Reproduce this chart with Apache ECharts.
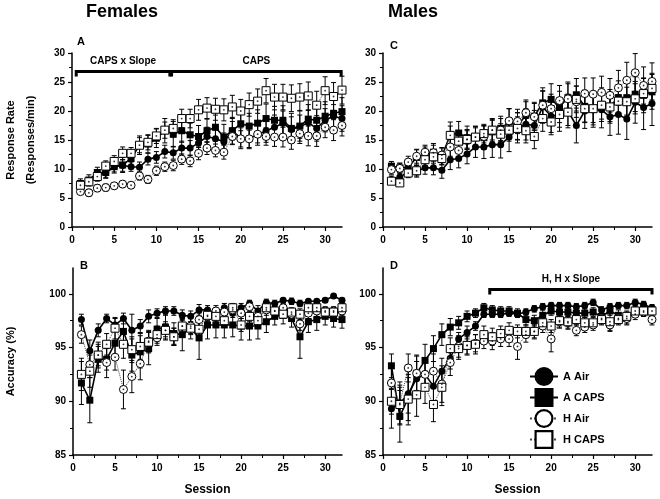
<!DOCTYPE html>
<html><head><meta charset="utf-8">
<script src="https://cdn.jsdelivr.net/npm/echarts@6/dist/echarts.min.js"></script>
<style>html,body{margin:0;padding:0;background:#fff}#c{width:660px;height:499px}</style>
</head><body><div id="c"></div>
<script>
const sessions = [1,2,3,4,5,6,7,8,9,10,11,12,13,14,15,16,17,18,19,20,21,22,23,24,25,26,27,28,29,30,31,32];
const xTicks = [0,5,10,15,20,25,30];
const rateTicks = [0,5,10,15,20,25,30];
const accTicks = [85,90,95,100];
const seriesNames = ['A Air','A CAPS','H Air','H CAPS'];

// Panel A: Females response rate
const rateFemAAir  = [7.1,7.8,9.0,9.3,10.4,10.6,10.4,10.3,11.7,12.0,13.0,12.8,13.6,13.6,14.5,15.6,15.2,14.7,16.6,15.3,15.3,15.9,16.6,17.2,17.9,16.8,17.3,18.0,17.0,18.4,19.1,18.7];
const rateFemACaps = [7.5,8.1,9.4,9.4,10.4,10.7,11.8,14.1,14.3,15.3,16.6,16.0,16.6,15.9,15.6,16.6,17.2,15.5,16.6,17.8,17.4,17.9,18.7,18.4,18.4,17.0,17.4,18.6,18.4,19.1,19.6,19.9];
const rateFemHAir  = [6.1,5.9,6.7,6.8,7.1,7.4,7.2,8.8,8.2,9.7,10.4,10.6,11.7,11.4,12.7,13.6,13.2,12.9,15.6,15.2,15.2,16.0,15.6,15.5,15.5,15.0,16.1,15.7,15.7,17.2,16.7,17.5];
const rateFemHCaps = [7.2,7.8,8.7,10.5,11.3,12.7,12.7,14.1,14.6,15.7,16.7,17.0,18.7,18.7,20.2,20.5,20.3,20.2,20.7,20.0,21.1,21.7,23.5,22.4,22.4,22.2,22.4,22.6,21.0,23.5,22.5,23.6];
const rateFemAAirSem  = [0.6,0.7,0.7,0.8,0.9,1.0,0.8,0.9,1.0,1.0,1.1,1.1,1.2,1.3,1.5,1.6,1.5,1.5,1.6,1.8,1.8,1.8,2.0,2.1,2.1,2.2,2.0,2.1,2.2,2.0,2.0,2.2];
const rateFemACapsSem = [0.8,0.9,0.9,1.0,1.1,1.3,1.3,1.6,1.5,1.6,2.1,2.2,2.0,2.0,1.9,2.0,2.1,2.2,2.3,2.3,2.2,2.3,2.5,2.4,2.5,2.6,2.6,2.5,2.6,2.5,2.4,2.4];
const rateFemHAirSem  = [0.5,0.6,0.6,0.6,0.5,0.6,0.5,0.7,0.7,0.8,0.8,0.9,0.9,1.0,1.1,1.1,1.1,1.2,1.4,1.4,1.5,1.5,1.5,1.6,1.7,1.6,1.7,1.7,1.8,1.8,1.8,1.8];
const rateFemHCapsSem = [0.6,0.7,0.8,0.9,1.0,1.1,1.0,1.3,1.3,1.3,1.4,1.5,1.6,1.6,1.8,1.8,1.9,1.9,2.0,2.0,2.0,2.1,2.1,2.2,2.2,2.3,2.3,2.4,2.4,2.4,2.4,2.4];

// Panel C: Males response rate
const rateMaleAAir  = [8.2,8.6,9.5,9.6,10.2,10.2,9.8,11.6,11.8,12.6,13.8,13.8,14.2,14.2,15.5,17.1,17.7,17.5,20.7,19.1,19.4,20.0,17.5,20.0,20.2,20.2,19.0,19.4,18.6,21.5,20.6,21.3];
const rateMaleACaps = [10.5,10.2,10.3,12.0,12.4,12.9,12.2,15.9,16.2,15.4,15.4,15.4,16.4,17.0,18.1,17.4,19.3,19.1,21.4,22.0,20.7,22.3,22.8,20.8,20.4,21.1,20.8,22.3,22.3,22.9,22.7,23.3];
const rateMaleHAir  = [9.9,10.1,11.2,12.2,12.9,12.8,12.4,13.8,13.2,15.1,15.5,15.6,16.7,16.7,18.3,18.2,19.7,19.0,21.0,20.4,21.8,22.1,21.6,23.0,22.9,23.2,22.7,24.0,25.3,26.6,24.4,25.1];
const rateMaleHCaps = [7.9,7.6,9.3,9.7,11.6,12.1,11.8,15.8,14.8,15.1,15.5,16.1,16.7,16.0,16.7,17.0,16.6,15.6,18.7,18.1,19.4,19.8,22.0,20.4,20.4,21.0,20.7,21.7,21.6,22.1,23.0,23.9];
const rateMaleAAirSem  = [0.6,0.8,0.8,1.0,1.1,1.2,1.4,1.7,1.6,1.7,1.8,2.0,2.2,2.3,2.5,2.6,2.7,2.6,2.8,2.8,2.9,2.9,3.0,3.0,3.0,3.1,3.2,3.4,3.5,3.6,3.8,3.8];
const rateMaleACapsSem = [0.8,0.8,0.9,1.3,1.4,1.5,1.4,2.2,2.0,2.0,2.0,2.0,2.1,2.1,2.3,2.3,2.3,2.4,2.6,2.7,2.7,2.7,2.8,2.8,2.8,2.9,2.9,2.9,3.0,3.0,3.0,3.0];
const rateMaleHAirSem  = [0.8,0.9,1.0,1.2,1.2,1.3,1.3,1.6,1.6,1.7,1.8,1.9,2.0,2.0,2.1,2.1,2.2,2.3,2.4,2.5,2.6,2.6,2.7,2.7,2.8,2.8,2.9,3.0,3.1,3.3,3.2,3.2];
const rateMaleHCapsSem = [0.5,0.5,0.8,0.9,1.0,1.1,1.1,1.6,1.5,1.5,1.6,1.6,1.7,1.8,1.9,2.0,2.1,2.1,2.2,2.2,2.2,2.3,2.3,2.3,2.4,2.4,2.5,2.5,2.5,2.6,2.6,2.6];

// Panel B: Females accuracy
const accFemAAir  = [97.6,94.7,96.6,97.7,97.1,97.7,96.6,97.0,97.9,98.2,98.4,98.4,98.0,97.9,98.5,98.5,98.2,98.7,98.2,98.7,99.1,98.4,99.2,99.1,99.4,99.3,99.1,99.3,99.3,99.4,99.8,99.4];
const accFemACaps = [91.7,90.1,93.9,93.9,95.4,96.5,94.3,94.6,94.9,96.7,96.9,96.3,96.2,96.8,95.9,97.1,97.1,97.1,97.1,97.0,97.0,97.0,97.4,97.9,98.0,97.7,96.0,97.4,97.6,97.9,97.7,97.6];
const accFemHAir  = [96.2,93.4,94.3,93.6,94.1,91.1,92.3,93.5,95.6,95.9,96.6,96.0,97.0,97.0,97.6,97.9,98.4,98.3,98.5,98.2,98.8,97.9,98.5,98.4,98.7,98.1,97.2,98.2,98.4,98.4,98.4,98.4];
const accFemHCaps = [92.5,92.8,94.3,95.3,96.8,95.3,94.8,95.1,95.5,96.2,96.6,96.0,97.0,96.8,96.7,98.0,97.9,97.5,98.7,97.1,97.9,97.5,98.7,98.4,98.1,98.3,98.1,98.7,98.7,98.3,98.3,98.7];
const accFemAAirSem  = [0.5,1.0,0.6,0.4,0.6,0.5,1.5,0.6,0.6,0.4,0.4,0.4,0.5,0.5,0.5,0.4,0.5,0.4,0.4,0.4,0.3,0.5,0.3,0.3,0.2,0.3,0.3,0.2,0.2,0.2,0.1,0.2];
const accFemACapsSem = [2.0,2.1,1.2,1.0,1.5,1.2,1.5,1.5,1.5,1.0,1.2,1.0,1.5,1.0,2.0,1.3,1.2,1.2,1.1,1.3,1.3,1.2,1.0,0.8,0.8,0.8,2.0,1.0,1.0,0.8,0.8,0.8];
const accFemHAirSem  = [0.8,1.2,1.0,1.4,1.2,1.8,1.5,1.5,1.0,0.7,0.6,0.8,0.6,0.7,0.6,0.5,0.5,0.5,0.5,0.5,0.5,0.6,0.5,0.4,0.4,0.5,0.6,0.5,0.5,0.4,0.4,0.4];
const accFemHCapsSem = [1.5,1.5,1.2,1.0,1.0,1.3,1.2,1.2,1.0,0.8,0.8,0.8,0.7,0.6,0.7,0.5,0.5,0.6,0.4,0.6,0.5,0.6,0.4,0.4,0.4,0.4,0.5,0.4,0.4,0.4,0.4,0.4];

// Panel D: Males accuracy
const accMaleAAir  = [89.3,89.8,90.7,92.1,92.5,91.4,92.8,94.0,95.8,96.4,97.0,98.1,98.1,98.1,98.2,98.1,98.3,98.6,98.8,98.9,98.9,98.9,98.8,98.9,99.2,98.5,98.8,98.9,98.9,99.2,99.0,98.7];
const accMaleACaps = [93.3,88.6,90.3,92.6,93.8,94.9,96.2,96.9,97.3,97.9,98.2,98.7,98.5,98.4,98.4,98.2,97.6,97.5,98.0,98.4,98.3,98.3,98.2,98.2,98.3,97.9,98.4,98.0,97.7,98.4,98.6,98.4];
const accMaleHAir  = [91.7,89.8,93.1,92.6,92.5,92.8,91.6,93.6,95.1,95.2,95.4,95.6,95.6,95.8,95.8,95.1,96.2,96.5,97.0,95.8,97.4,97.3,96.6,96.9,97.1,97.7,97.1,97.7,97.7,98.1,98.3,97.6];
const accMaleHCaps = [90.0,89.7,90.2,90.6,91.3,89.7,91.3,94.9,94.9,95.2,95.3,96.2,96.0,96.3,96.6,96.5,96.5,96.5,97.3,97.0,97.5,97.4,97.6,97.3,97.3,97.6,97.4,97.6,97.9,98.4,98.4,98.4];
const accMaleAAirSem  = [1.8,2.0,1.8,1.6,1.5,1.5,1.2,1.0,0.6,0.6,0.4,0.3,0.3,0.3,0.3,0.3,0.3,0.3,0.3,0.3,0.3,0.3,0.3,0.3,0.3,0.3,0.3,0.3,0.3,0.3,0.3,0.3];
const accMaleACapsSem = [1.1,2.4,2.5,1.7,1.5,1.2,1.0,0.8,0.6,0.5,0.4,0.4,0.4,0.4,0.4,0.4,0.5,0.5,0.5,0.4,0.4,0.4,0.4,0.4,0.4,0.5,0.4,0.5,0.6,0.4,0.4,0.4];
const accMaleHAirSem  = [1.5,1.5,1.3,1.6,1.4,1.6,1.7,1.2,1.0,0.8,0.8,0.7,0.8,0.7,0.7,1.2,0.7,0.7,0.6,1.2,0.6,0.6,0.5,0.5,0.5,0.5,0.5,0.5,0.5,0.5,0.4,0.5];
const accMaleHCapsSem = [1.2,1.8,2.0,2.0,1.5,1.6,1.7,1.0,1.0,0.9,0.9,0.8,0.8,0.7,0.7,0.6,0.6,0.6,0.6,0.6,0.6,0.6,0.5,0.5,0.5,0.5,0.9,0.5,0.5,0.5,0.5,0.5];

// Significance brackets: [fromSession, toSession, level, label]
const bracketsFemRate = [[0.5, 11.6, 26.8, 'CAPS x Slope'], [11.8, 31.9, 26.8, 'CAPS']];
const bracketsMaleAcc = [[12.7, 32.0, 100.4, 'H, H x Slope']];

const FONT = '"Liberation Sans", Arial, sans-serif';
const chart = echarts.init(document.getElementById('c'), null, {renderer: 'canvas'});

const grids = [
  {left: 71, top: 53, width: 271, height: 174},
  {left: 71, top: 268, width: 271, height: 187},
  {left: 383, top: 53, width: 269, height: 174},
  {left: 383, top: 268, width: 269, height: 187}
];

function xAxisDef(i, showName) {
  return {
    type: 'value', gridIndex: i, min: 0, max: 32, interval: 5,
    axisLine: {lineStyle: {color: '#000', width: 1.5}},
    axisTick: {length: 4, lineStyle: {color: '#000', width: 1.2}, customValues: xTicks},
    minorTick: {show: true, splitNumber: 2, length: 3, lineStyle: {color: '#000', width: 1}},
    axisLabel: {customValues: xTicks, color: '#000', fontFamily: FONT, fontWeight: 'bold', fontSize: 10, margin: 8},
    splitLine: {show: false},
    name: showName ? 'Session' : '', nameLocation: 'middle', nameGap: 29,
    nameTextStyle: {color: '#000', fontFamily: FONT, fontWeight: 'bold', fontSize: 12}
  };
}
function yAxisDef(i, kind, name, gap) {
  const isRate = kind === 'rate';
  return {
    type: 'value', gridIndex: i, min: isRate ? 0 : 85, max: isRate ? 30 : 102.4, interval: 5,
    axisLine: {show: true, lineStyle: {color: '#000', width: 1.5}},
    axisTick: {show: true, length: 4, lineStyle: {color: '#000', width: 1.2}, customValues: isRate ? rateTicks : accTicks},
    minorTick: {show: true, splitNumber: 2, length: 3, lineStyle: {color: '#000', width: 1}},
    axisLabel: {customValues: isRate ? rateTicks : accTicks, color: '#000', fontFamily: FONT, fontWeight: 'bold', fontSize: 10, margin: 7},
    splitLine: {show: false},
    name: name, nameLocation: 'middle', nameGap: gap, nameRotate: 90,
    nameTextStyle: {color: '#000', fontFamily: FONT, fontWeight: 'bold', fontSize: 11, lineHeight: 20}
  };
}

const styles = {
  'A Air':  {symbol: 'circle', size: 7, fill: '#000', line: {color: '#000', width: 1.6, type: 'solid'}, open: false},
  'A CAPS': {symbol: 'rect', size: 7, fill: '#000', line: {color: '#000', width: 1.6, type: 'solid'}, open: false},
  'H Air':  {symbol: 'circle', size: 8, fill: '#fff', line: {color: '#444', width: 1, type: 'dotted'}, open: true},
  'H CAPS': {symbol: 'rect', size: 8, fill: '#fff', line: {color: '#444', width: 1, type: 'dotted'}, open: true}
};

const series = [];
function addPanel(gi, vals, sems) {
  seriesNames.forEach((name, k) => {
    const st = styles[name];
    const v = vals[k], e = sems[k];
    series.push({
      type: 'custom', name: name + ' sem', xAxisIndex: gi, yAxisIndex: gi, silent: true, z: 2,
      data: sessions.map((s, i) => [s, v[i] - e[i], v[i] + e[i]]),
      encode: {x: 0, y: [1, 2]},
      renderItem: (params, api) => {
        const x = api.value(0);
        const lo = api.coord([x, api.value(1)]);
        const hi = api.coord([x, api.value(2)]);
        const w = 2.5;
        const s = {stroke: '#000', lineWidth: 1};
        return {type: 'group', children: [
          {type: 'line', shape: {x1: lo[0], y1: lo[1], x2: hi[0], y2: hi[1]}, style: s},
          {type: 'line', shape: {x1: hi[0] - w, y1: hi[1], x2: hi[0] + w, y2: hi[1]}, style: s},
          {type: 'line', shape: {x1: lo[0] - w, y1: lo[1], x2: lo[0] + w, y2: lo[1]}, style: s}
        ]};
      }
    });
    series.push({
      type: 'line', name: name, xAxisIndex: gi, yAxisIndex: gi, z: 3 + k * 0.1,
      data: sessions.map((s, i) => [s, v[i]]),
      symbol: st.symbol, symbolSize: st.size, showAllSymbol: true,
      itemStyle: {color: st.fill, borderColor: '#000', borderWidth: st.open ? 1 : 0},
      lineStyle: st.line, emphasis: {disabled: true}
    });
    if (st.open) {
      series.push({
        type: 'scatter', name: name + ' dot', xAxisIndex: gi, yAxisIndex: gi, z: 4, silent: true,
        data: sessions.map((s, i) => [s, v[i]]),
        symbol: 'circle', symbolSize: 1.8, itemStyle: {color: '#000'}
      });
    }
  });
}
addPanel(0, [rateFemAAir, rateFemACaps, rateFemHAir, rateFemHCaps], [rateFemAAirSem, rateFemACapsSem, rateFemHAirSem, rateFemHCapsSem]);
addPanel(1, [accFemAAir, accFemACaps, accFemHAir, accFemHCaps], [accFemAAirSem, accFemACapsSem, accFemHAirSem, accFemHCapsSem]);
addPanel(2, [rateMaleAAir, rateMaleACaps, rateMaleHAir, rateMaleHCaps], [rateMaleAAirSem, rateMaleACapsSem, rateMaleHAirSem, rateMaleHCapsSem]);
addPanel(3, [accMaleAAir, accMaleACaps, accMaleHAir, accMaleHCaps], [accMaleAAirSem, accMaleACapsSem, accMaleHAirSem, accMaleHCapsSem]);

function bracketSeries(gi, list) {
  return {
    type: 'custom', xAxisIndex: gi, yAxisIndex: gi, silent: true, z: 5, clip: false,
    data: list.map(b => [b[0], b[1], b[2], b[3]]),
    encode: {x: [0, 1], y: 2},
    renderItem: (params, api) => {
      const b = list[params.dataIndex];
      const p1 = api.coord([b[0], b[2]]);
      const p2 = api.coord([b[1], b[2]]);
      const tip = 5;
      return {type: 'group', children: [
        {type: 'polyline', shape: {points: [[p1[0], p1[1] + tip], [p1[0], p1[1]], [p2[0], p2[1]], [p2[0], p2[1] + tip]]},
         style: {stroke: '#000', lineWidth: 3, fill: null}},
        {type: 'text', x: (p1[0] + p2[0]) / 2, y: p1[1] - 10,
         style: {text: b[3], fill: '#000', font: 'bold 10px ' + FONT, textAlign: 'center', textVerticalAlign: 'middle'}}
      ]};
    }
  };
}
series.push(bracketSeries(0, bracketsFemRate));
series.push(bracketSeries(3, bracketsMaleAcc));

const txt = (t, x, y, size) => ({type: 'text', x: x, y: y,
  style: {text: t, fill: '#000', font: 'bold ' + size + 'px ' + FONT, textAlign: 'center', textVerticalAlign: 'middle'}});

chart.setOption({
  animation: false,
  backgroundColor: '#fff',
  grid: grids,
  xAxis: [xAxisDef(0, false), xAxisDef(1, true), xAxisDef(2, false), xAxisDef(3, true)],
  yAxis: [
    yAxisDef(0, 'rate', 'Response Rate\n(Responses/min)', 31),
    yAxisDef(1, 'acc', 'Accuracy (%)', 52),
    yAxisDef(2, 'rate', '', 30),
    yAxisDef(3, 'acc', '', 30)
  ],
  legend: {
    data: seriesNames, orient: 'vertical', left: 524, top: 362,
    itemWidth: 28, itemHeight: 21, itemGap: 2, selectedMode: false,
    itemStyle: {borderWidth: 2.2, borderColor: '#000'},
    textStyle: {color: '#000', fontFamily: FONT, fontWeight: 'bold', fontSize: 11}
  },
  graphic: [
    txt('Females', 122, 12, 18), txt('Males', 413, 12, 18),
    txt('A', 81, 42, 11), txt('B', 84, 266, 11), txt('C', 394, 46, 11), txt('D', 394, 266, 11)
  ],
  series: series
});
</script>
</body></html>
